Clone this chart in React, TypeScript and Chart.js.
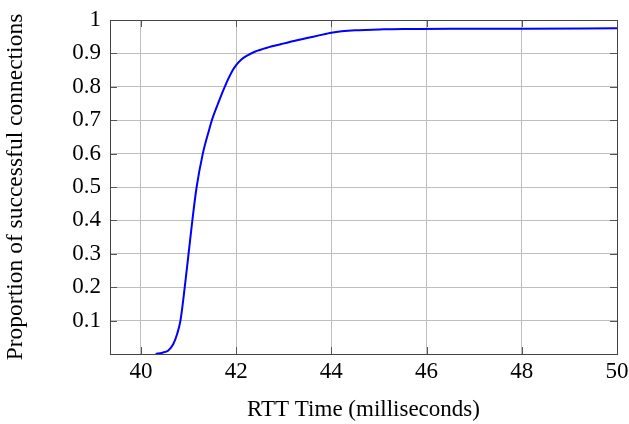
import { useEffect, useRef } from "react";
import { Chart, registerables } from "chart.js";

Chart.register(...registerables);

const rttMs = [
  40.31, 40.45, 40.57, 40.68, 40.76, 40.83, 40.92, 41.0, 41.08, 41.17, 41.3, 41.43,
  41.49, 41.62, 41.76, 41.93, 42.0, 42.11, 42.25, 42.39, 42.67, 42.95, 43.3, 43.62,
  43.9, 44.0, 44.5, 45.1, 45.65, 46.5, 48.0, 50.0,
];
const proportion = [
  0, 0.004, 0.01, 0.03, 0.06, 0.1, 0.2, 0.3, 0.4, 0.5, 0.6, 0.67,
  0.7, 0.75, 0.8, 0.85, 0.865, 0.882, 0.895, 0.905, 0.918, 0.928, 0.94, 0.95,
  0.959, 0.962, 0.969, 0.972, 0.973, 0.974, 0.974, 0.975,
];
const xTicks = [40, 42, 44, 46, 48, 50];
const yTicks = [0.1, 0.2, 0.3, 0.4, 0.5, 0.6, 0.7, 0.8, 0.9, 1];
const xTitle = "RTT Time (milliseconds)";
const yTitle = "Proportion of successful connections";

export default function App() {
  const ref = useRef<HTMLCanvasElement>(null);

  useEffect(() => {
    const canvas = ref.current;
    if (!canvas) return;
    const family = "'Liberation Serif', 'Times New Roman', serif";
    const frame = {
      id: "frame",
      beforeDatasetsDraw(chart: any) {
        const { ctx, chartArea: a, scales } = chart;
        ctx.save();
        ctx.strokeStyle = "#555555";
        ctx.lineWidth = 1;
        const L = 7;
        ctx.beginPath();
        for (const v of xTicks) {
          const px = Math.round(scales.x.getPixelForValue(v)) + 0.5;
          ctx.moveTo(px, a.top);
          ctx.lineTo(px, a.top + L);
          ctx.moveTo(px, a.bottom);
          ctx.lineTo(px, a.bottom - L);
        }
        for (const v of yTicks) {
          const py = Math.round(scales.y.getPixelForValue(v)) + 0.5;
          ctx.moveTo(a.left, py);
          ctx.lineTo(a.left + L, py);
          ctx.moveTo(a.right, py);
          ctx.lineTo(a.right - L, py);
        }
        ctx.stroke();
        ctx.strokeStyle = "#444444";
        ctx.strokeRect(
          Math.round(a.left) + 0.5,
          Math.round(a.top) + 0.5,
          Math.round(a.right - a.left),
          Math.round(a.bottom - a.top)
        );
        ctx.restore();
      },
    };

    const chart = new Chart(canvas, {
      type: "line",
      data: {
        datasets: [
          {
            data: rttMs.map((x, i) => ({ x, y: proportion[i] })),
            borderColor: "#0000ff",
            borderWidth: 2,
            pointRadius: 0,
            fill: false,
            cubicInterpolationMode: "monotone",
          },
        ],
      },
      options: {
        responsive: false,
        animation: false,
        layout: { padding: { left: 0, right: 12, top: 20, bottom: 0 } },
        plugins: { legend: { display: false }, tooltip: { enabled: false } },
        scales: {
          x: {
            type: "linear",
            min: 39.35,
            max: 50,
            afterBuildTicks: (s: any) => {
              s.ticks = xTicks.map((value) => ({ value }));
            },
            afterFit: (s: any) => {
              s.height = 70;
              s.paddingLeft = 0;
              s.paddingRight = 0;
            },
            grid: { color: "#bebebe", drawTicks: false },
            border: { display: false },
            ticks: {
              padding: 4,
              color: "#000",
              font: { family, size: 23 },
              callback: (v: any) => String(v),
            },
            title: {
              display: true,
              text: xTitle,
              color: "#000",
              font: { family, size: 23 },
              padding: { top: 0, bottom: 0 },
            },
          },
          y: {
            type: "linear",
            min: 0,
            max: 1,
            afterBuildTicks: (s: any) => {
              s.ticks = yTicks.map((value) => ({ value }));
            },
            afterFit: (s: any) => {
              s.width = 110;
              s.paddingTop = 0;
              s.paddingBottom = 0;
            },
            grid: { color: "#bebebe", drawTicks: false },
            border: { display: false },
            ticks: {
              padding: 9,
              color: "#000",
              font: { family, size: 23 },
              callback: (v: any) => String(Number(Number(v).toFixed(1))),
            },
            title: {
              display: true,
              text: yTitle,
              color: "#000",
              font: { family, size: 23.5 },
              padding: { top: 2, bottom: 0 },
            },
          },
        },
      },
      plugins: [frame],
    } as any);

    return () => chart.destroy();
  }, []);

  return (
    <div style={{ position: "fixed", left: 0, top: 0, width: 629, height: 424, background: "#fff" }}>
      <canvas ref={ref} width={629} height={424} />
    </div>
  );
}
